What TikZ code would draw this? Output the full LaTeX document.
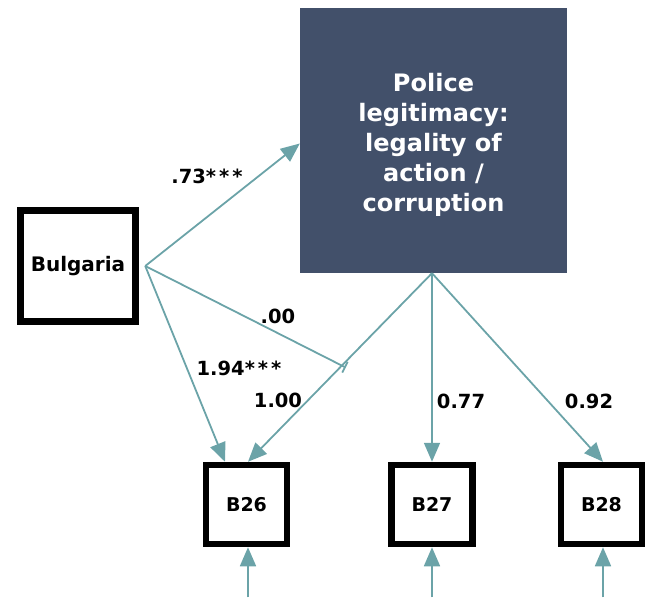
\documentclass[tikz,border=0pt]{standalone}
\usepackage{fontspec}
\setmainfont{DejaVu Sans}
\usetikzlibrary{arrows.meta,calc}
\definecolor{teal1}{HTML}{6BA3A8}
\definecolor{navy1}{HTML}{42506A}
\newcommand{\stars}{*\kern3pt*\kern3pt*}
\tikzset{
  obsbox/.style={draw=black,line width=6.5pt,fill=white,minimum width=81pt,minimum height=79pt,inner sep=0pt,font=\bfseries\fontsize{19}{22}\selectfont},
  path1/.style={draw=teal1,line width=1.8pt,-{Triangle[length=19pt,width=16pt]}},
  lbl/.style={font=\bfseries\fontsize{19.5}{21}\selectfont,text=black,inner sep=0pt}
}
\begin{document}
\begin{tikzpicture}[x=1pt,y=-1pt]
\useasboundingbox (0,0) rectangle (654,606);
\node[draw=black,line width=7.5pt,fill=white,minimum width=115pt,minimum height=111pt,inner sep=0pt,font=\bfseries\fontsize{20}{22}\selectfont] (bul) at (78,266) {Bulgaria};
\node[fill=navy1,minimum width=267pt,minimum height=265pt,inner sep=0pt] (lat) at (433.5,140.5) {};
\node[text=white,align=center,inner sep=0pt,font=\bfseries\fontsize{24}{30}\selectfont] (latt) at (433.5,144.5) {Police\\legitimacy:\\legality of\\action /\\corruption};
\node[obsbox] (b26) at (246.5,504.5) {B26};
\node[obsbox] (b27) at (432,504.5) {B27};
\node[obsbox] (b28) at (601.5,504.5) {B28};
\coordinate (ls) at ([xshift=-1.5pt]lat.south);
\coordinate (bs) at ([xshift=6pt]bul.east);
\coordinate (e26) at ([xshift=1.5pt,yshift=-50pt]b26.south);
\coordinate (e27) at ([yshift=-50pt]b27.south);
\coordinate (e28) at ([xshift=1.5pt,yshift=-50pt]b28.south);
\coordinate (b26l) at ([xshift=-21.5pt]b26.north);
\coordinate (b26r) at ([xshift=1.5pt]b26.north);
\coordinate (b28t) at ([xshift=1.5pt]b28.north);
\draw[path1] (bs) -- ([yshift=-3pt]lat.west);
\draw[path1] (bs) -- (b26l);
\draw[path1] (ls) -- (b26r);
\draw[path1] (ls) -- (b27.north);
\draw[path1] (ls) -- (b28t);
\coordinate (mod) at ($(ls)!0.49!(b26r)$);
\draw[draw=teal1,line width=1.8pt,-{Bar[width=12pt,line width=1.8pt]}] (bs) -- ($(bs)!1.02!(mod)$);
\draw[path1] (e26) -- ([xshift=1.5pt]b26.south);
\draw[path1] (e27) -- (b27.south);
\draw[path1] (e28) -- ([xshift=1.5pt]b28.south);
\node[lbl] (l1) at (207,176) {.73\stars};
\node[lbl] (l2) at (278,316) {.00};
\node[lbl] (l3) at (239,368) {1.94\stars};
\node[lbl] (l4) at (278,400) {1.00};
\node[lbl] (l5) at (461,401) {0.77};
\node[lbl] (l6) at (589,401) {0.92};
\end{tikzpicture}
\end{document}
